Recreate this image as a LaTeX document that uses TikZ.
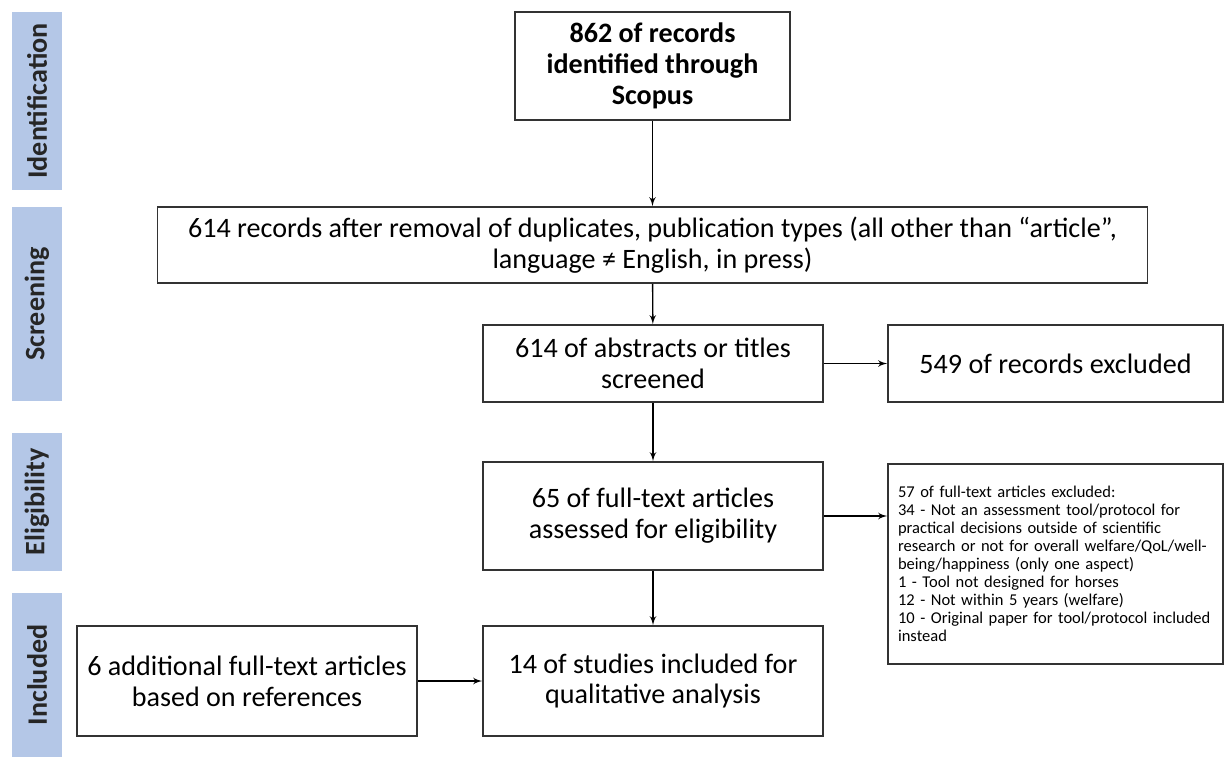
\documentclass[tikz,border=0pt]{standalone}
\usepackage{fontspec}
\setmainfont{Carlito}
\usepackage{xcolor}
\usepackage{tikz}
\usetikzlibrary{shapes,arrows}
\definecolor{stageblue}{HTML}{B4C7E7}
\tikzstyle{block} = [rectangle, draw=black!80, line width=0.9pt, fill=white, text centered, font=\fontsize{16}{17.6}\selectfont, inner sep=2pt]
\tikzstyle{stage} = [rectangle, fill=stageblue, rotate=90, font=\fontsize{16}{18}\bfseries\selectfont, text=black!85, minimum height=1.0cm, inner sep=0pt]
\tikzstyle{line} = [draw, line width=0.8pt, -latex']

\begin{document}
\begin{tikzpicture}[x=0.02cm, y=-0.02cm]
\useasboundingbox (0,0) rectangle (1225,758);
% stages on the left
\node [stage, minimum width=3.56cm] (s1) at (37,101) {Identification};
\node [stage, minimum width=3.88cm] (s2) at (37,304) {Screening};
\node [stage, minimum width=2.76cm] (s3) at (37,502) {Eligibility};
\node [stage, minimum width=3.28cm] (s4) at (37,675) {Included};

\node [block, minimum width=5.5cm, minimum height=2.16cm, font=\fontsize{16}{17.6}\bfseries\selectfont, align=center] (p1) at (652.5,66) {862 of records\\identified through\\Scopus};
\node [block, minimum width=19.8cm, minimum height=1.52cm, align=center] (p2) at (652.5,245) {614 records after removal of duplicates, publication types (all other than “article”,\\language ≠ English, in press)};
\path [line] (p1) -- (p2);

\node [block, minimum width=6.8cm, minimum height=1.54cm, align=center] (p3) at (653,363.5) {614 of abstracts or titles\\screened};
\node [block, minimum width=6.7cm, minimum height=1.54cm] (p4) at (1055.5,363.5) {549 of records excluded};
\path [line] (p2) -- (p3);
\path [line] (p3) -- (p4);

\node [block, minimum width=6.8cm, minimum height=2.16cm, align=center] (p5) at (653,516) {65 of full-text articles\\assessed for eligibility};
\node [block, minimum width=6.7cm, minimum height=4.0cm, text width=6.3cm, align=left, font=\fontsize{9.4}{10.2}\selectfont] (p6) at (1055.5,564) {57 of full-text articles excluded:\\34 - Not an assessment tool/protocol for\\practical decisions outside of scientific\\research or not for overall welfare/QoL/well-\\being/happiness (only one aspect)\\1 - Tool not designed for horses\\12 - Not within 5 years (welfare)\\10 - Original paper for tool/protocol included\\instead};
\path [line] (p3) -- (p5);
\path [line] (p5) -- (p6.west |- p5);

\node [block, minimum width=6.8cm, minimum height=2.2cm, align=center] (p7) at (653,681) {14 of studies included for\\qualitative analysis};
\node [block, minimum width=6.8cm, minimum height=2.2cm, align=center] (p8) at (247,681) {6 additional full-text articles\\based on references};
\path [line] (p5) -- (p7);
\path [line] (p8) -- (p7);
\end{tikzpicture}
\end{document}
